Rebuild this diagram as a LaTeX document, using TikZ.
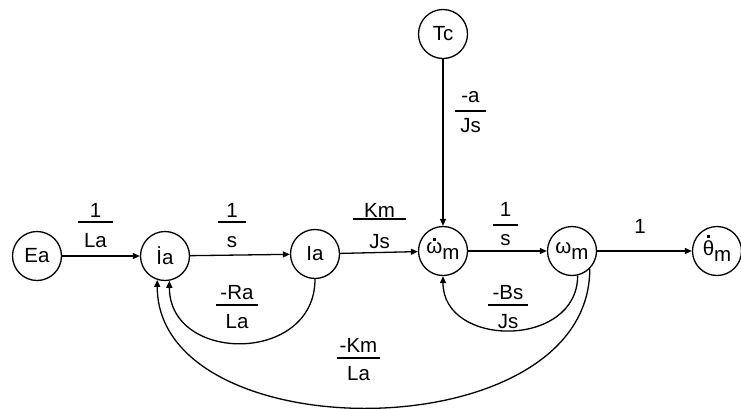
\documentclass[tikz,border=0pt]{standalone}
\usepackage{fontspec}
\setmainfont{Liberation Sans}
\usetikzlibrary{arrows.meta}
% fraction label: #1 bar width, #2 numerator baseline above bar, #3 denominator baseline below bar
\newcommand{\frc}[5]{\vbox{\offinterlineskip
  \kern\dimexpr #3-#2\relax
  \hbox to #1{\hss\smash{#4}\hss}%
  \kern\dimexpr #2-0.6pt\relax
  \hrule height 1.3pt
  \kern\dimexpr #3-0.6pt\relax
  \hbox to #1{\hss\smash{#5}\hss}}}
% letter with a dot above it: #1 raise of the dot, #2 letter
\newcommand{\dotover}[2]{\ooalign{#2\cr\hidewidth\raisebox{#1}{\rule{2.4pt}{3pt}}\hidewidth\cr}}
\begin{document}
\begin{tikzpicture}[x=1pt,y=-1pt,
  font=\fontsize{20.5}{24}\selectfont,
  state/.style={circle,draw,line width=1.3pt,minimum size=49pt,inner sep=0pt},
  flow/.style={draw,line width=1.3pt,-{Triangle[length=7pt,width=6pt]}},
  lbl/.style={inner sep=0pt}]
\useasboundingbox (0,0) rectangle (741,408);

% nodes
\node[state] (Ea)  at (37,256)  {Ea};
\node[state] (Iad) at (165,256) {İa};
\node[state] (Ia)  at (315,254) {Ia};
\node[state] (wd)  at (443,251) {\dotover{13pt}{ω}\raisebox{-6pt}{m}};
\node[state] (wm)  at (572,251) {\raisebox{-2pt}{ω\raisebox{-6pt}{m}}};
\node[state] (th)  at (717,251) {\dotover{17pt}{θ}\raisebox{-6pt}{m}};
\node[state] (Tc)  at (443,34)  {Tc};

% forward branches
\draw[flow] (Ea) -- (Iad);
\draw[flow] (Iad) -- (Ia);
\draw[flow] (Ia) -- (wd);
\draw[flow] (wd) -- (wm);
\draw[flow] (wm) -- (th);
\draw[flow] (Tc) -- (wd);

% feedback branches
\draw[flow] (Ia.south) .. controls +(0,85) and +(0,83) .. (Iad.-80);
\draw[flow] (wm.-77) .. controls +(0,73) and +(0,72) .. (wd.south);
\draw[flow] (wm.-45) .. controls +(0,183) and +(0,172) .. (Iad.-108);

% gains
\node[lbl] (gEa)  at (95.5,222) {\frc{35pt}{4pt}{25pt}{1}{La}};
\node[lbl] (gs1)  at (232,222)  {\frc{28pt}{4pt}{25pt}{1}{s}};
\node[lbl] (gKm)  at (379.5,219) {\frc{53pt}{1pt}{29pt}{Km}{Js}};
\node[lbl] (gTc)  at (470.5,111) {\frc{31pt}{8pt}{21pt}{-a}{Js}};
\node[lbl] (gs2)  at (505.5,225) {\frc{25pt}{8pt}{20pt}{1}{s}};
\node[lbl,anchor=base] (g1) at (640,233) {1};
\node[lbl] (gRa)  at (237,305)  {\frc{42pt}{5pt}{23pt}{-Ra}{La}};
\node[lbl] (gBs)  at (508,305)  {\frc{40pt}{5pt}{23pt}{-Bs}{Js}};
\node[lbl] (gKL)  at (358.5,358) {\frc{43pt}{5pt}{22pt}{-Km}{La}};
\end{tikzpicture}
\end{document}
